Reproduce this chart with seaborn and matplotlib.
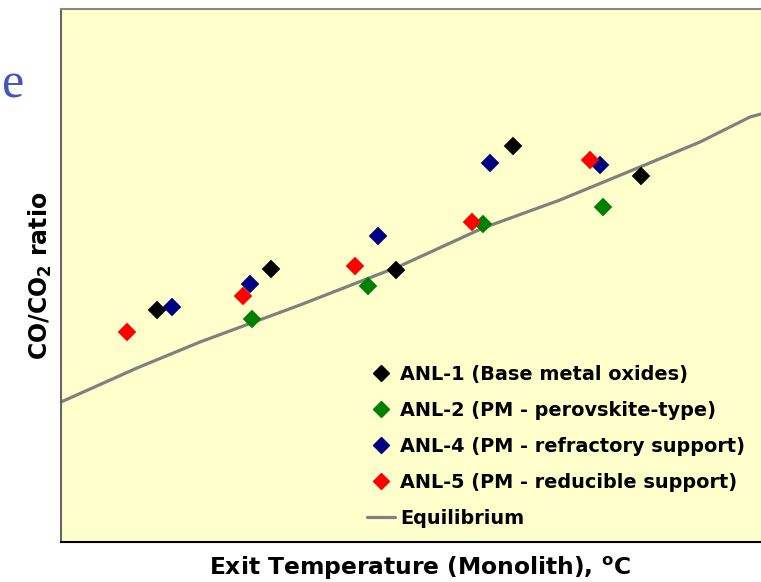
import matplotlib
matplotlib.use("Agg")
import matplotlib.pyplot as plt
from matplotlib.lines import Line2D
import seaborn as sns
import pandas as pd

# ---- data (arbitrary units) ----
anl1_x = [96, 210, 335, 452, 580]
anl1_y = [232, 273, 272, 396, 366]
anl2_x = [191, 307, 422, 542]
anl2_y = [223, 256, 318, 335]
anl4_x = [111, 189, 317, 429, 539]
anl4_y = [235, 258, 306, 379, 377]
anl5_x = [66, 182, 294, 411, 529]
anl5_y = [210, 246, 276, 320, 382]
eq_x = [0, 76, 139, 239, 339, 422, 499, 579, 639, 689, 700, 710]
eq_y = [140, 174, 200, 237, 276, 314, 342, 375, 400, 425, 428, 431]

labels = ["ANL-1 (Base metal oxides)", "ANL-2 (PM - perovskite-type)",
          "ANL-4 (PM - refractory support)", "ANL-5 (PM - reducible support)"]
colors = ["#000000", "#008000", "#000080", "#FF0000"]

rows = []
for lab, xs, ys in zip(labels, [anl1_x, anl2_x, anl4_x, anl5_x],
                       [anl1_y, anl2_y, anl4_y, anl5_y]):
    for a, b in zip(xs, ys):
        rows.append({"x": a, "y": b, "series": lab})
df = pd.DataFrame(rows)
eq = pd.DataFrame({"x": eq_x, "y": eq_y})

sns.set_style("white")
plt.rcParams["font.family"] = ["DejaVu Sans"]
plt.rcParams["text.color"] = "black"
plt.rcParams["axes.labelcolor"] = "black"
plt.rcParams["mathtext.fontset"] = "custom"
plt.rcParams["mathtext.rm"] = "DejaVu Sans:bold"
plt.rcParams["mathtext.default"] = "rm"

fig = plt.figure(figsize=(7.61, 5.82), dpi=100)
fig.patch.set_facecolor("white")
ax = fig.add_axes([61 / 761, 40 / 582, 0.93, 533 / 582])
ax.set_facecolor("#FFFFCC")

sns.lineplot(data=eq, x="x", y="y", color="#808080", linewidth=2.3, ax=ax,
             legend=False, zorder=2)
sns.scatterplot(data=df, x="x", y="y", hue="series", hue_order=labels,
                palette=colors, marker="D", s=90, linewidth=0, ax=ax,
                legend=False, zorder=3)

ax.set_xlim(0, 0.93 * 761)
ax.set_ylim(0, 533)
ax.set_xticks([])
ax.set_yticks([])
ax.set_xlabel("Exit Temperature (Monolith), $^{o}$C", fontsize=16.8,
              fontweight="bold", color="black")
ax.xaxis.set_label_coords(0.507, -0.024)
ax.set_ylabel("CO/CO$_2$ ratio", fontsize=17, fontweight="bold",
              color="black")
ax.yaxis.set_label_coords(-0.01, 0.5)

ax.spines["left"].set_color("#666666")
ax.spines["left"].set_linewidth(1.5)
ax.spines["top"].set_color("#888888")
ax.spines["top"].set_linewidth(1.5)
ax.spines["bottom"].set_color("#000000")
ax.spines["bottom"].set_linewidth(1.5)
ax.spines["right"].set_visible(False)

handles = [Line2D([], [], marker="D", linestyle="none", color=c,
                  markersize=8) for c in colors]
handles.append(Line2D([], [], color="#808080", linewidth=2.3))
leg = ax.legend(handles, labels + ["Equilibrium"], loc="upper left",
                bbox_to_anchor=((367 - 61) / 707.7, 1 - (365 - 9) / 533),
                frameon=False, prop={"weight": "bold", "size": 13.9},
                handlelength=1.45, handletextpad=0.25, labelspacing=0.88,
                borderaxespad=0, borderpad=0)
for t in leg.get_texts():
    t.set_color("black")

fig.text(24 / 761, 1 - 97 / 582, "e", color="#4455BB", fontsize=36,
         family=["Liberation Serif", "DejaVu Serif"], ha="right",
         va="baseline")

fig.savefig("out.png", dpi=100)
